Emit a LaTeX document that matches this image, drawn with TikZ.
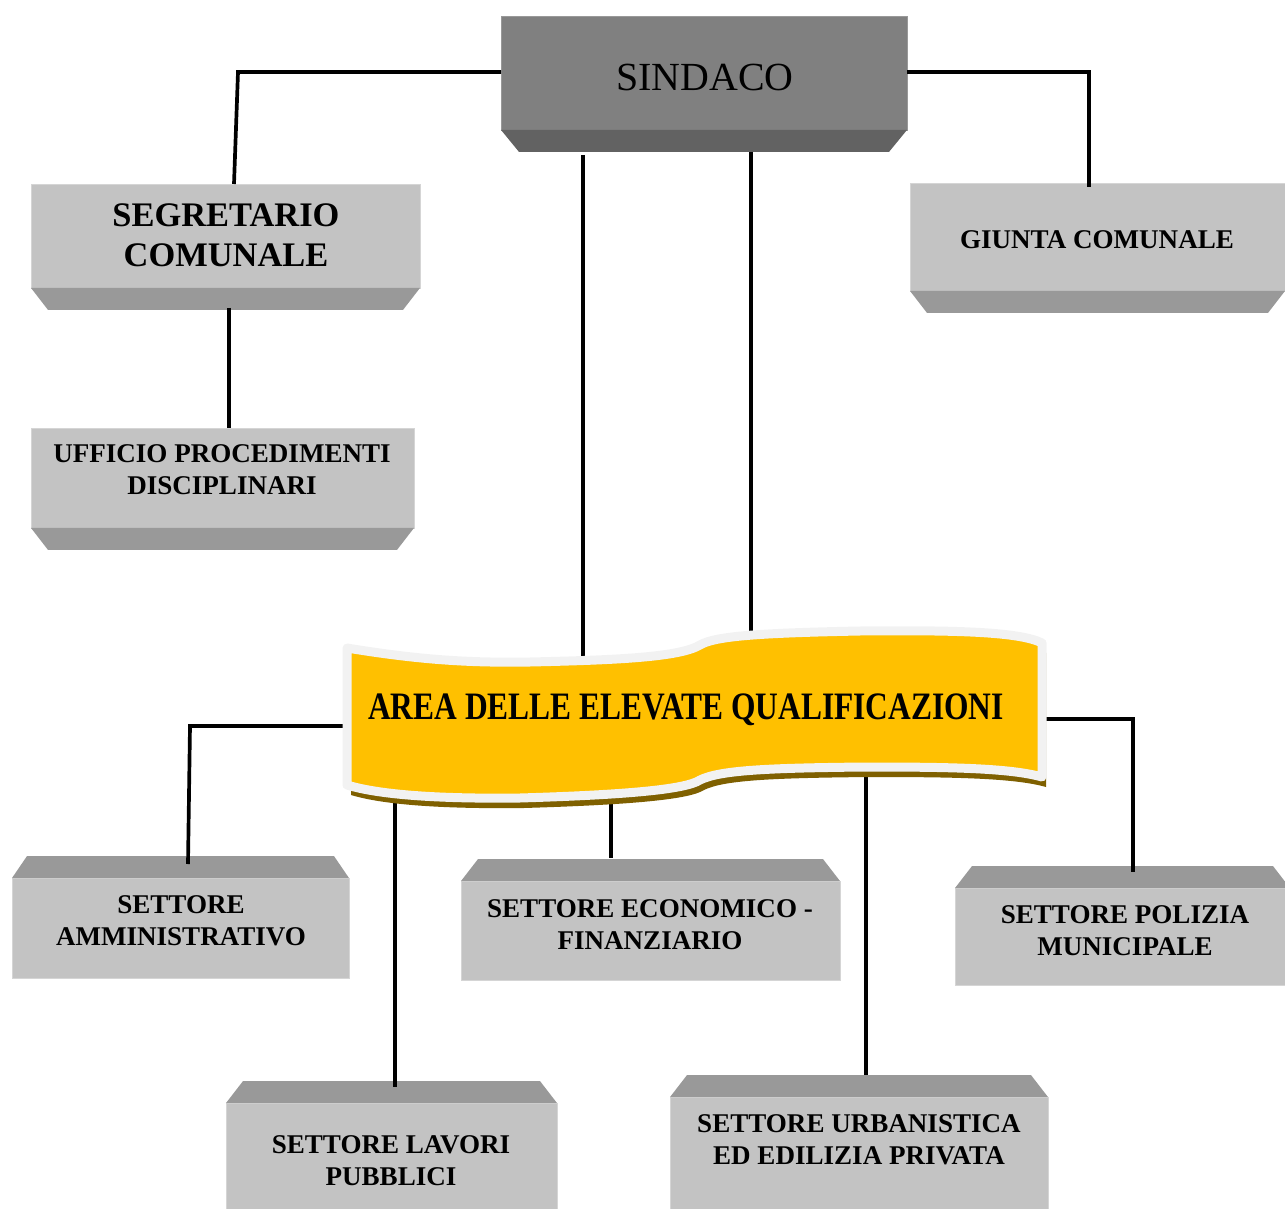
\documentclass[tikz,border=0pt]{standalone}
\usepackage{fontspec}
\setmainfont{Liberation Serif}
\usepackage{graphicx}
\usetikzlibrary{calc}
\definecolor{face}{HTML}{C3C3C3}
\definecolor{bevel}{HTML}{999999}
\definecolor{sface}{HTML}{808080}
\definecolor{sbevel}{HTML}{626262}
\definecolor{gold}{HTML}{FFC000}
\definecolor{goldshadow}{HTML}{7F6000}
\definecolor{rim}{HTML}{F2F2F2}
\newcommand\bevdown[3]{\fill[#3] (#1.south west) -- (#1.south east) -- ++(-#2,22) -- ($(#1.south west)+(#2,22)$) -- cycle;}
\newcommand\bevup[2]{\fill[bevel] (#1.north west) -- (#1.north east) -- ++(-#2,-22) -- ($(#1.north west)+(#2,-22)$) -- cycle;}
\begin{document}
\begin{tikzpicture}[x=0.02cm,y=-0.02cm,
  facebox/.style={rectangle, fill=face, draw=face!70!white, line width=0.5pt, inner sep=0pt, outer sep=0pt},
  conn/.style={line width=2.1pt, black},
  lbl/.style={font=\bfseries\fontsize{15.4}{18.1}\selectfont, align=center, inner sep=0pt},
  banner/.style={fill=gold, draw=rim, line width=0.18cm, line join=round}]
\useasboundingbox (0,0) rectangle (1285,1209);

% ---- boxes ----
\node[facebox, fill=sface, draw=sface!80!white, minimum width=8.12cm, minimum height=2.28cm] (sind) at (704,73) {};
\bevdown{sind}{18}{sbevel}
\node[inner sep=0pt, font=\fontsize{22.7}{26}\selectfont] (sindT) at (705,77) {SINDACO};

\node[facebox, minimum width=7.78cm, minimum height=2.08cm] (seg) at (225.5,236) {};
\bevdown{seg}{17}{bevel}
\node[lbl, font=\bfseries\fontsize{19.6}{22.7}\selectfont] (segT) at (226,235) {SEGRETARIO\\COMUNALE};

\node[facebox, minimum width=7.5cm, minimum height=2.16cm] (giu) at (1097.5,237) {};
\bevdown{giu}{17}{bevel}
\node[lbl] (giuT) at (1097,240) {GIUNTA COMUNALE};

\node[facebox, minimum width=7.66cm, minimum height=2.0cm] (uff) at (222.5,478) {};
\bevdown{uff}{17}{bevel}
\node[lbl] (uffT) at (222,470) {UFFICIO PROCEDIMENTI\\DISCIPLINARI};

\node[facebox, minimum width=6.74cm, minimum height=2.0cm] (amm) at (180.5,928) {};
\bevup{amm}{15}
\node[lbl] (ammT) at (181,921) {SETTORE\\AMMINISTRATIVO};

\node[facebox, minimum width=7.58cm, minimum height=1.98cm] (eco) at (650.5,930.5) {};
\bevup{eco}{17}
\node[lbl] (ecoT) at (650,925) {SETTORE ECONOMICO -\\FINANZIARIO};

\node[facebox, minimum width=6.7cm, minimum height=1.94cm] (pol) at (1122.5,936.5) {};
\bevup{pol}{17}
\node[lbl] (polT) at (1125,931) {SETTORE POLIZIA\\MUNICIPALE};

\node[facebox, minimum width=6.62cm, minimum height=2.34cm] (lav) at (391.5,1161.5) {};
\bevup{lav}{17}
\node[lbl] (lavT) at (391,1161) {SETTORE LAVORI\\PUBBLICI};

\node[facebox, minimum width=7.56cm, minimum height=2.46cm] (urb) at (859,1158.5) {};
\bevup{urb}{17}
\node[lbl] (urbT) at (859,1140) {SETTORE URBANISTICA\\ED EDILIZIA PRIVATA};

% ---- connector coordinates ----
\coordinate (kSL) at (238,72);
\coordinate (kSR) at (1089,72);
\coordinate (sB1) at (583,155);
\coordinate (aT1) at (583,665);
\coordinate (sB2) at (751,152);
\coordinate (aT2) at (751,645);
\coordinate (g1) at (229,308);
\coordinate (aL) at (350,726);
\coordinate (kAL) at (190,726);
\coordinate (ammTop) at (188,864);
\coordinate (aR) at (1040,719);
\coordinate (kAR) at (1133,719);
\coordinate (polTop) at (1133,872);
\coordinate (aB1) at (395,790);
\coordinate (lavTop) at (395,1087);
\coordinate (aB2) at (611,790);
\coordinate (ecoTop) at (611,858);
\coordinate (aB3) at (866,765);
\coordinate (urbTop) at (866,1075);

% ---- connectors ----
\draw[conn] (sind.west |- kSL) -- (kSL) -- ([xshift=8.5*0.02cm]seg.north);
\draw[conn] (sind.east |- kSR) -- (kSR) -- ([yshift=-4*0.02cm]kSR |- giu.north);
\draw[conn] (sB1) -- (aT1);
\draw[conn] (sB2) -- (aT2);
\draw[conn] (g1) -- (g1 |- uff.north);
\draw[conn] (aL) -- (kAL) -- (ammTop);
\draw[conn] (aR) -- (kAR) -- (polTop);
\draw[conn] (aB1) -- (lavTop);
\draw[conn] (aB2) -- (ecoTop);
\draw[conn] (aB3) -- (urbTop);

% ---- banner ----
\def\bannerpath{(347,648) .. controls (420,660) and (470,663) .. (530,662)
  .. controls (620,660) and (680,657) .. (700,645)
  .. controls (715,636) and (760,633) .. (860,631)
  .. controls (960,630) and (1020,632) .. (1042,643)
  -- (1042,777)
  .. controls (1010,768) and (950,767) .. (865,767)
  .. controls (770,768) and (720,770) .. (700,780)
  .. controls (685,790) and (620,795) .. (520,798)
  .. controls (440,799) and (380,795) .. (347,785) -- cycle}
\fill[goldshadow, shift={(4,10)}] \bannerpath;
\path[banner] \bannerpath;
\node[inner sep=0pt, font=\bfseries\fontsize{22.1}{26}\selectfont] (area) at (686,710)
  {\scalebox{0.81}[1]{AREA DELLE ELEVATE QUALIFICAZIONI}};
\end{tikzpicture}
\end{document}
